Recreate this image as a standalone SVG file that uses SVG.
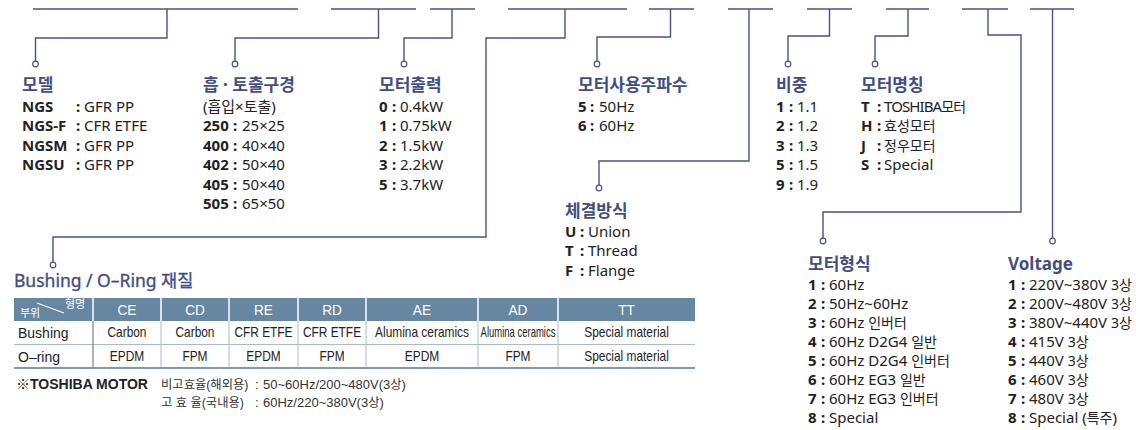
<svg xmlns="http://www.w3.org/2000/svg" width="1136" height="430" viewBox="0 0 1136 430">
<style>
.ln{fill:none;stroke:#45538b;stroke-width:1.4}
.dot{fill:#fff;stroke:#45538b;stroke-width:1.2}
.h{font-family:"Noto Sans","Noto Sans CJK KR",sans-serif;font-size:17px;font-weight:bold;fill:#3f4e88}
.t{font-family:"Noto Sans","Noto Sans CJK KR",sans-serif;font-size:15px;fill:#222}
.k{font-weight:bold}
.kr{font-size:14px}
.tb{font-family:"Liberation Sans","Noto Sans CJK KR",sans-serif;font-size:14px;fill:#222;text-anchor:middle}
.th{font-family:"Liberation Sans","Noto Sans CJK KR",sans-serif;font-size:15.5px;fill:#fff;text-anchor:middle}
.nt{font-family:"Liberation Sans","Noto Sans CJK KR",sans-serif;font-size:13px;fill:#333}
.nk{font-size:12.3px}
</style>
<rect width="1136" height="430" fill="#fff"/>
<g id="connectors">
<path class="ln" d="M33 9H298M167 9V38H35.5V61"/>
<path class="ln" d="M331 9H416M378.5 9V38H235V61"/>
<path class="ln" d="M430 9H475M452 9V38H404V61"/>
<path class="ln" d="M508 9H627M565 9V38H486V237H53V262"/>
<path class="ln" d="M649 9H694M670.5 9V37H597V61"/>
<path class="ln" d="M728 9H773M749 9V161H599V185"/>
<path class="ln" d="M807 9H852M829.5 9V36H788V61"/>
<path class="ln" d="M886 9H929M908 9V36H875V61"/>
<path class="ln" d="M962 9H1008M988 9V35H1021V212H823V238"/>
<path class="ln" d="M1030 9H1074M1052.5 9V238"/>
<circle class="dot" cx="35.5" cy="64" r="2.8"/>
<circle class="dot" cx="235" cy="64" r="2.8"/>
<circle class="dot" cx="404" cy="64" r="2.8"/>
<circle class="dot" cx="53" cy="265" r="2.8"/>
<circle class="dot" cx="597" cy="64" r="2.8"/>
<circle class="dot" cx="599" cy="188" r="2.8"/>
<circle class="dot" cx="788" cy="64" r="2.8"/>
<circle class="dot" cx="875" cy="64" r="2.8"/>
<circle class="dot" cx="823" cy="241" r="2.8"/>
<circle class="dot" cx="1052.5" cy="241" r="2.8"/>
</g>
<g id="model">
<text class="h" x="22" y="91">모델</text>
<text class="t" y="111.5"><tspan class="k" x="22">NGS</tspan><tspan class="k" x="76">:</tspan><tspan x="84">GFR PP</tspan></text>
<text class="t" y="131"><tspan class="k" x="22">NGS-F</tspan><tspan class="k" x="76">:</tspan><tspan x="84">CFR ETFE</tspan></text>
<text class="t" y="150.5"><tspan class="k" x="22">NGSM</tspan><tspan class="k" x="76">:</tspan><tspan x="84">GFR PP</tspan></text>
<text class="t" y="170"><tspan class="k" x="22">NGSU</tspan><tspan class="k" x="76">:</tspan><tspan x="84">GFR PP</tspan></text>
</g>
<g id="port">
<text class="h" x="203" y="91">흡 · 토출구경</text>
<text class="t" x="203" y="111.5">(흡입×토출)</text>
<text class="t" y="131"><tspan class="k" x="203">250</tspan><tspan class="k" x="233">:</tspan><tspan x="242">25×25</tspan></text>
<text class="t" y="150.5"><tspan class="k" x="203">400</tspan><tspan class="k" x="233">:</tspan><tspan x="242">40×40</tspan></text>
<text class="t" y="170"><tspan class="k" x="203">402</tspan><tspan class="k" x="233">:</tspan><tspan x="242">50×40</tspan></text>
<text class="t" y="189.5"><tspan class="k" x="203">405</tspan><tspan class="k" x="233">:</tspan><tspan x="242">50×40</tspan></text>
<text class="t" y="209"><tspan class="k" x="203">505</tspan><tspan class="k" x="233">:</tspan><tspan x="242">65×50</tspan></text>
</g>
<g id="power">
<text class="h" x="379" y="91">모터출력</text>
<text class="t" y="111.5"><tspan class="k" x="379">0</tspan><tspan class="k" x="392">:</tspan><tspan x="400">0.4kW</tspan></text>
<text class="t" y="131"><tspan class="k" x="379">1</tspan><tspan class="k" x="392">:</tspan><tspan x="400">0.75kW</tspan></text>
<text class="t" y="150.5"><tspan class="k" x="379">2</tspan><tspan class="k" x="392">:</tspan><tspan x="400">1.5kW</tspan></text>
<text class="t" y="170"><tspan class="k" x="379">3</tspan><tspan class="k" x="392">:</tspan><tspan x="400">2.2kW</tspan></text>
<text class="t" y="189.5"><tspan class="k" x="379">5</tspan><tspan class="k" x="392">:</tspan><tspan x="400">3.7kW</tspan></text>
</g>
<g id="freq">
<text class="h" x="578" y="91">모터사용주파수</text>
<text class="t" y="111.5"><tspan class="k" x="578">5</tspan><tspan class="k" x="590">:</tspan><tspan x="599">50Hz</tspan></text>
<text class="t" y="131"><tspan class="k" x="578">6</tspan><tspan class="k" x="590">:</tspan><tspan x="599">60Hz</tspan></text>
</g>
<g id="gravity">
<text class="h" x="776" y="91">비중</text>
<text class="t" y="111.5"><tspan class="k" x="776">1</tspan><tspan class="k" x="789">:</tspan><tspan x="797">1.1</tspan></text>
<text class="t" y="131"><tspan class="k" x="776">2</tspan><tspan class="k" x="789">:</tspan><tspan x="797">1.2</tspan></text>
<text class="t" y="150.5"><tspan class="k" x="776">3</tspan><tspan class="k" x="789">:</tspan><tspan x="797">1.3</tspan></text>
<text class="t" y="170"><tspan class="k" x="776">5</tspan><tspan class="k" x="789">:</tspan><tspan x="797">1.5</tspan></text>
<text class="t" y="189.5"><tspan class="k" x="776">9</tspan><tspan class="k" x="789">:</tspan><tspan x="797">1.9</tspan></text>
</g>
<g id="motorname">
<text class="h" x="861" y="91">모터명칭</text>
<text class="t" y="111.5"><tspan class="k" x="861">T</tspan><tspan class="k" x="877">:</tspan><tspan x="884" style="letter-spacing:-0.9px">TOSHIBA</tspan><tspan class="kr" style="letter-spacing:-0.9px">모터</tspan></text>
<text class="t" y="131"><tspan class="k" x="861">H</tspan><tspan class="k" x="877">:</tspan><tspan x="884" class="kr">효성모터</tspan></text>
<text class="t" y="150.5"><tspan class="k" x="861">J</tspan><tspan class="k" x="877">:</tspan><tspan x="884" class="kr">정우모터</tspan></text>
<text class="t" y="170"><tspan class="k" x="861">S</tspan><tspan class="k" x="877">:</tspan><tspan x="884">Special</tspan></text>
</g>
<g id="connection">
<text class="h" x="565" y="217">체결방식</text>
<text class="t" y="236.5"><tspan class="k" x="565">U</tspan><tspan class="k" x="580">:</tspan><tspan x="588">Union</tspan></text>
<text class="t" y="256"><tspan class="k" x="565">T</tspan><tspan class="k" x="580">:</tspan><tspan x="588">Thread</tspan></text>
<text class="t" y="275.5"><tspan class="k" x="565">F</tspan><tspan class="k" x="580">:</tspan><tspan x="588">Flange</tspan></text>
</g>
<g id="motortype">
<text class="h" x="808" y="270">모터형식</text>
<text class="t" y="289.5"><tspan class="k" x="808">1</tspan><tspan class="k" x="821">:</tspan><tspan x="829">60Hz</tspan></text>
<text class="t" y="308.5"><tspan class="k" x="808">2</tspan><tspan class="k" x="821">:</tspan><tspan x="829">50Hz~60Hz</tspan></text>
<text class="t" y="327.5"><tspan class="k" x="808">3</tspan><tspan class="k" x="821">:</tspan><tspan x="829">60Hz </tspan><tspan class="kr">인버터</tspan></text>
<text class="t" y="346.5"><tspan class="k" x="808">4</tspan><tspan class="k" x="821">:</tspan><tspan x="829">60Hz D2G4 </tspan><tspan class="kr">일반</tspan></text>
<text class="t" y="365.5"><tspan class="k" x="808">5</tspan><tspan class="k" x="821">:</tspan><tspan x="829">60Hz D2G4 </tspan><tspan class="kr">인버터</tspan></text>
<text class="t" y="384.5"><tspan class="k" x="808">6</tspan><tspan class="k" x="821">:</tspan><tspan x="829">60Hz EG3 </tspan><tspan class="kr">일반</tspan></text>
<text class="t" y="403.5"><tspan class="k" x="808">7</tspan><tspan class="k" x="821">:</tspan><tspan x="829">60Hz EG3 </tspan><tspan class="kr">인버터</tspan></text>
<text class="t" y="422.5"><tspan class="k" x="808">8</tspan><tspan class="k" x="821">:</tspan><tspan x="829">Special</tspan></text>
</g>
<g id="voltage">
<text class="h" x="1008" y="270">Voltage</text>
<text class="t" y="289.5"><tspan class="k" x="1008">1</tspan><tspan class="k" x="1021">:</tspan><tspan x="1029">220V~380V </tspan><tspan class="kr">3상</tspan></text>
<text class="t" y="308.5"><tspan class="k" x="1008">2</tspan><tspan class="k" x="1021">:</tspan><tspan x="1029">200V~480V </tspan><tspan class="kr">3상</tspan></text>
<text class="t" y="327.5"><tspan class="k" x="1008">3</tspan><tspan class="k" x="1021">:</tspan><tspan x="1029">380V~440V </tspan><tspan class="kr">3상</tspan></text>
<text class="t" y="346.5"><tspan class="k" x="1008">4</tspan><tspan class="k" x="1021">:</tspan><tspan x="1029">415V </tspan><tspan class="kr">3상</tspan></text>
<text class="t" y="365.5"><tspan class="k" x="1008">5</tspan><tspan class="k" x="1021">:</tspan><tspan x="1029">440V </tspan><tspan class="kr">3상</tspan></text>
<text class="t" y="384.5"><tspan class="k" x="1008">6</tspan><tspan class="k" x="1021">:</tspan><tspan x="1029">460V </tspan><tspan class="kr">3상</tspan></text>
<text class="t" y="403.5"><tspan class="k" x="1008">7</tspan><tspan class="k" x="1021">:</tspan><tspan x="1029">480V </tspan><tspan class="kr">3상</tspan></text>
<text class="t" y="422.5"><tspan class="k" x="1008">8</tspan><tspan class="k" x="1021">:</tspan><tspan x="1029">Special (</tspan><tspan class="kr">특주</tspan><tspan>)</tspan></text>
</g>
<g id="bushing">
<text x="14" y="286.5" style="font-family:'Noto Sans','Noto Sans CJK KR',sans-serif;font-size:17.5px;fill:#3f4e88;stroke:#3f4e88;stroke-width:0.35">Bushing / O–Ring 재질</text>
<rect x="14" y="298" width="681" height="23" fill="#6786a1"/>
<g stroke="#fff" stroke-width="1.5">
<path d="M93 298V321M161 298V321M229 298V321M298 298V321M366 298V321M478 298V321M558 298V321"/>
<path d="M37 303L64 313" stroke-width="1.2"/>
</g>
<g stroke="#a9bacb" stroke-width="1">
<path d="M161 321V368M229 321V368M298 321V368M366 321V368M478 321V368M558 321V368"/>
<path d="M14 344.5H695"/>
</g>
<path d="M93 321V368" stroke="#666" stroke-width="1"/>
<path d="M14 368H695" stroke="#7f99b0" stroke-width="2"/>
<text x="20" y="317" style="font-family:'Noto Sans CJK KR',sans-serif;font-size:11px;fill:#fff">부위</text>
<text x="65" y="308" style="font-family:'Noto Sans CJK KR',sans-serif;font-size:11px;fill:#fff">형명</text>
<g transform="scale(0.88 1)">
<text class="th" y="315"><tspan x="144.3">CE</tspan><tspan x="221.6">CD</tspan><tspan x="299.4">RE</tspan><tspan x="377.3">RD</tspan><tspan x="479.5">AE</tspan><tspan x="588.6">AD</tspan><tspan x="711.9">TT</tspan></text>
</g>
<text x="18" y="338" style="font-family:'Liberation Sans',sans-serif;font-size:14px;fill:#222">Bushing</text>
<text x="18" y="361.5" style="font-family:'Liberation Sans',sans-serif;font-size:14px;fill:#222">O–ring</text>
<g class="tb" transform="scale(0.85 1)">
<text x="149.4" y="337.5">Carbon</text>
<text x="229.4" y="337.5">Carbon</text>
<text x="310" y="337.5">CFR ETFE</text>
<text x="390.6" y="337.5">CFR ETFE</text>
<text x="496.5" y="337.5">Alumina ceramics</text>
<text x="609.4" y="337.5" textLength="88" lengthAdjust="spacingAndGlyphs">Alumina ceramics</text>
<text x="737.1" y="337.5">Special material</text>
<text x="149.4" y="361">EPDM</text>
<text x="229.4" y="361">FPM</text>
<text x="310" y="361">EPDM</text>
<text x="390.6" y="361">FPM</text>
<text x="496.5" y="361">EPDM</text>
<text x="609.4" y="361">FPM</text>
<text x="737.1" y="361">Special material</text>
</g>
</g>
<g id="note">
<text x="16" y="389" style="font-family:'Liberation Sans','Noto Sans CJK KR',sans-serif;font-size:14px;font-weight:bold;fill:#222">※TOSHIBA MOTOR</text>
<text class="nt" y="389"><tspan x="161" class="nk">비고효율(해외용)</tspan><tspan x="255">:</tspan><tspan x="263">50~60Hz/200~480V(3</tspan><tspan class="nk">상</tspan><tspan>)</tspan></text>
<text class="nt" y="406.5"><tspan x="161" class="nk">고 효 율(국내용)</tspan><tspan x="255">:</tspan><tspan x="263">60Hz/220~380V(3</tspan><tspan class="nk">상</tspan><tspan>)</tspan></text>
</g>
</svg>
